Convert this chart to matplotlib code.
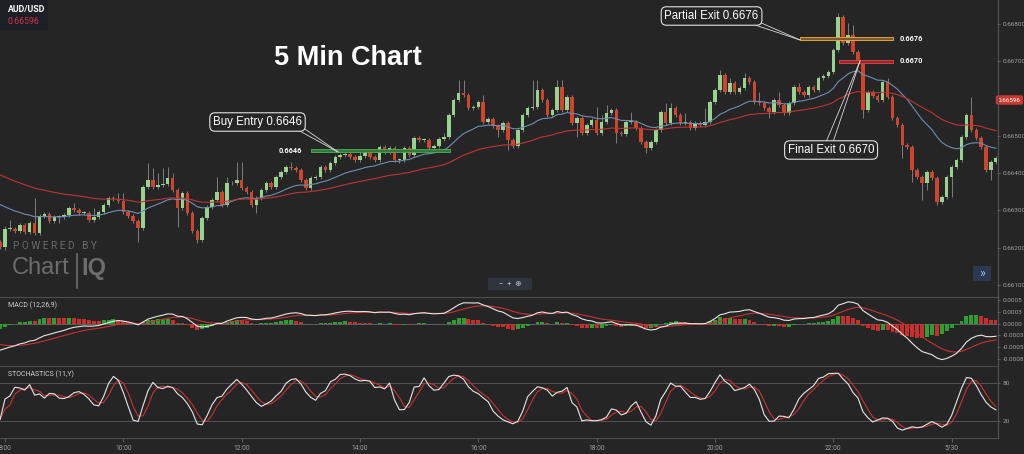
import numpy as np
import matplotlib
matplotlib.use('Agg')
import matplotlib.pyplot as plt
from matplotlib.patches import Rectangle
from matplotlib.lines import Line2D
import matplotlib.transforms as mtransforms

plt.rcParams['font.family'] = ['Roboto', 'DejaVu Sans']

# ---------------- data (AUD/USD 5-minute candles, first candle 7:55) ----------------
first_open = 0.66215
closes = [
    0.66202, 0.66250, 0.66250, 0.66245, 0.66261, 0.66242, 0.66266, 0.66240, 0.66285, 0.66291,
    0.66272, 0.66282, 0.66283, 0.66288, 0.66307, 0.66301, 0.66293, 0.66294, 0.66274, 0.66282,
    0.66296, 0.66315, 0.66333, 0.66331, 0.66325, 0.66296, 0.66285, 0.66272, 0.66253, 0.66363,
    0.66382, 0.66363, 0.66368, 0.66371, 0.66387, 0.66355, 0.66307, 0.66347, 0.66293, 0.66245,
    0.66221, 0.66280, 0.66309, 0.66328, 0.66349, 0.66315, 0.66374, 0.66373, 0.66382, 0.66360,
    0.66349, 0.66315, 0.66333, 0.66355, 0.66374, 0.66363, 0.66390, 0.66403, 0.66416, 0.66414,
    0.66408, 0.66382, 0.66360, 0.66387, 0.66390, 0.66416, 0.66408, 0.66427, 0.66443, 0.66449,
    0.66451, 0.66443, 0.66435, 0.66446, 0.66454, 0.66443, 0.66435, 0.66470, 0.66457, 0.66467,
    0.66435, 0.66436, 0.66467, 0.66449, 0.66494, 0.66489, 0.66490, 0.66467, 0.66473, 0.66492,
    0.66497, 0.66556, 0.66596, 0.66615, 0.66609, 0.66575, 0.66577, 0.66591, 0.66537, 0.66545,
    0.66526, 0.66516, 0.66534, 0.66489, 0.66473, 0.66516, 0.66556, 0.66575, 0.66577, 0.66623,
    0.66596, 0.66556, 0.66569, 0.66631, 0.66569, 0.66604, 0.66534, 0.66548, 0.66508, 0.66529,
    0.66542, 0.66508, 0.66537, 0.66561, 0.66569, 0.66508, 0.66505, 0.66537, 0.66538, 0.66521,
    0.66483, 0.66467, 0.66483, 0.66516, 0.66564, 0.66534, 0.66575, 0.66556, 0.66534, 0.66537,
    0.66521, 0.66534, 0.66529, 0.66537, 0.66591, 0.66623, 0.66663, 0.66617, 0.66642, 0.66617,
    0.66628, 0.66655, 0.66644, 0.66591, 0.66588, 0.66575, 0.66564, 0.66596, 0.66583, 0.66561,
    0.66588, 0.66631, 0.66617, 0.66609, 0.66631, 0.66623, 0.66655, 0.66660, 0.66671, 0.66730,
    0.66818, 0.66749, 0.66770, 0.66725, 0.66698, 0.66569, 0.66617, 0.66607, 0.66596, 0.66644,
    0.66604, 0.66548, 0.66529, 0.66475, 0.66470, 0.66408, 0.66390, 0.66374, 0.66403, 0.66387,
    0.66323, 0.66336, 0.66390, 0.66416, 0.66435, 0.66497, 0.66556, 0.66516, 0.66494, 0.66470,
    0.66408, 0.66430, 0.66441,
]
# wick lengths beyond the body, in points (0.00001)
wick_up = [
    5, 8, 24, 5, 5, 5, 5, 67, 5, 5,
    5, 5, 5, 5, 5, 13, 5, 5, 5, 24,
    5, 5, 5, 5, 16, 21, 5, 5, 5, 5,
    46, 32, 32, 43, 29, 13, 5, 5, 5, 5,
    5, 5, 5, 5, 40, 5, 16, 5, 48, 48,
    5, 5, 5, 5, 5, 5, 5, 5, 5, 13,
    5, 5, 5, 5, 5, 5, 5, 5, 5, 5,
    5, 5, 5, 16, 5, 5, 5, 5, 5, 5,
    5, 5, 5, 5, 5, 5, 5, 5, 5, 5,
    11, 5, 5, 35, 35, 5, 5, 5, 19, 5,
    5, 5, 5, 5, 5, 5, 5, 5, 72, 27,
    5, 5, 5, 19, 19, 5, 5, 5, 5, 5,
    5, 35, 19, 21, 5, 5, 5, 5, 27, 5,
    5, 5, 5, 5, 5, 24, 13, 5, 5, 24,
    5, 5, 5, 38, 5, 5, 13, 5, 13, 5,
    5, 13, 5, 5, 27, 5, 5, 5, 21, 5,
    5, 5, 11, 5, 5, 5, 5, 5, 5, 5,
    11, 5, 32, 27, 5, 5, 5, 5, 5, 5,
    11, 5, 5, 5, 5, 5, 5, 5, 5, 5,
    5, 5, 5, 5, 5, 5, 5, 48, 5, 5,
    5, 5, 5,
]
wick_dn = [
    5, 8, 5, 5, 5, 5, 5, 5, 5, 5,
    5, 5, 16, 5, 5, 5, 5, 5, 5, 5,
    5, 5, 5, 5, 5, 5, 5, 5, 38, 5,
    5, 5, 5, 5, 5, 5, 51, 5, 5, 5,
    8, 5, 5, 5, 5, 5, 5, 5, 5, 5,
    5, 5, 21, 5, 5, 5, 5, 5, 5, 5,
    5, 5, 5, 5, 5, 5, 5, 5, 5, 5,
    5, 5, 5, 5, 5, 5, 5, 5, 5, 5,
    5, 8, 5, 5, 5, 5, 5, 5, 5, 5,
    5, 5, 5, 5, 5, 5, 5, 5, 5, 5,
    5, 19, 5, 27, 5, 5, 5, 5, 5, 5,
    5, 5, 5, 5, 5, 5, 5, 38, 5, 5,
    5, 5, 5, 5, 5, 27, 5, 5, 5, 5,
    5, 13, 5, 5, 5, 5, 5, 5, 5, 5,
    5, 5, 5, 5, 5, 5, 5, 5, 5, 5,
    5, 5, 5, 5, 5, 5, 16, 5, 5, 5,
    5, 5, 5, 5, 5, 5, 5, 5, 5, 5,
    5, 5, 5, 5, 5, 21, 5, 5, 5, 5,
    5, 5, 5, 35, 5, 32, 5, 46, 19, 5,
    8, 5, 5, 54, 5, 5, 5, 5, 5, 5,
    5, 27, 5,
]
# indicator seeds (values of the running averages at the first candle)
seed_ema_fast = 0.66328   # blue line
seed_ema_slow = 0.66403   # red line
seed_ema12 = 0.66270
seed_ema26 = 0.66325
seed_signal = -0.00041

time_labels = ['8:00', '10:00', '12:00', '14:00', '16:00', '18:00', '20:00', '22:00', '5/30']
time_label_index = [0, 24, 48, 72, 96, 120, 144, 168, 192]
# 0.66600 is hidden behind the current-price tag in the reference
price_ticks = [0.668, 0.667, 0.665, 0.664, 0.663, 0.662, 0.661]
macd_ticks = [0.0005, 0.00025, 0.0, -0.00025, -0.0005, -0.00075]
macd_tick_labels = ['0.0005', '0.0003', '0.0000', '-0.0003', '-0.0005', '-0.0008']
stoch_ticks = [80, 20]

buy_entry = 0.6646
partial_exit = 0.6676
final_exit = 0.6670
last_price = 0.66596
pair = 'AUD/USD'

# ---------------- derived series ----------------
c = np.array(closes)
o = np.array([first_open] + closes[:-1])
hi = np.maximum(o, c) + np.array(wick_up) * 1e-5
lo = np.minimum(o, c) - np.array(wick_dn) * 1e-5
x = np.arange(len(c)) - 1


def ema(vals, period, seed):
    a = 2.0 / (period + 1)
    out, prev = [], seed
    for v in vals:
        prev = prev + a * (v - prev)
        out.append(prev)
    return np.array(out)


ma_fast = ema(c, 20, seed_ema_fast)
ma_slow = ema(c, 50, seed_ema_slow)
macd = ema(c, 12, seed_ema12) - ema(c, 26, seed_ema26)
signal = ema(macd, 9, seed_signal)
hist = macd - signal

fastk = []
for k in range(len(c)):
    s = max(0, k - 10)
    hh, ll = hi[s:k + 1].max(), lo[s:k + 1].min()
    fastk.append(100 * (c[k] - ll) / (hh - ll))
fastk = np.array(fastk)


def sma(v, n):
    return np.array([v[max(0, k - n + 1):k + 1].mean() for k in range(len(v))])


slowk = sma(fastk, 3)
slowd = sma(slowk, 3)

# ---------------- layout ----------------
BG = '#252525'
W, H = 1024, 454
fig = plt.figure(figsize=(W / 100, H / 100), dpi=100, facecolor=BG)


def rect(x0, y0, x1, y1):
    return [x0 / W, 1 - y1 / H, (x1 - x0) / W, (y1 - y0) / H]


def px2i(px):
    return (px - 5) / 4.93


def py2p(py):
    return 0.66864 - py * 0.0000268


ax = fig.add_axes(rect(0, 0, 997, 296))
axm = fig.add_axes(rect(0, 297, 997, 365))
axs = fig.add_axes(rect(0, 366, 997, 438))
XL = (-1.014, 201.2)
for a in (ax, axm, axs):
    a.set_facecolor(BG)
    for s in a.spines.values():
        s.set_visible(False)
    a.set_xlim(*XL)
    a.yaxis.tick_right()
    a.tick_params(axis='y', colors='#777777', labelcolor='#a0a0a0', labelsize=4.6,
                  length=2, width=0.5, pad=2)
    a.set_xticks([])

# ---- price panel ----
ax.set_ylim(py2p(296), py2p(0))
ax.set_yticks(price_ticks)
ax.set_yticklabels([f'{v:.5f}' for v in price_ticks])

GREEN = '#97d38f'
RED = '#d0432c'
ax.vlines(x, lo, hi, color='#8c8c8c', lw=0.6, zorder=2)
up = c >= o
body = np.maximum(np.abs(c - o), 0.000018)
ax.bar(x, body, bottom=np.minimum(o, c), width=0.72,
       color=np.where(up, GREEN, RED), lw=0, zorder=3)
ax.plot(x, ma_fast, color='#6f8db0', lw=0.8, zorder=4)
ax.plot(x, ma_slow, color='#bf3434', lw=0.8, zorder=4)

# level bands
bh = 0.000045
ax.add_patch(Rectangle((px2i(311), buy_entry - bh), px2i(450) - px2i(311), 2 * bh,
                       fc='#2f7a38', ec='#4fae5a', lw=0.6, zorder=5))
ax.add_patch(Rectangle((px2i(800), partial_exit - bh), px2i(893) - px2i(800), 2 * bh,
                       fc='#7a5a25', ec='#e0a040', lw=0.7, zorder=5))
ax.add_patch(Rectangle((px2i(839), final_exit - bh), px2i(893) - px2i(839), 2 * bh,
                       fc='#8a2a2a', ec='#d84040', lw=0.7, zorder=5))
lvl_kw = dict(color='white', fontsize=5.3, fontweight='bold', va='center', zorder=6)
ax.text(px2i(302), buy_entry, f'{buy_entry:.4f}', ha='right', **lvl_kw)
ax.text(px2i(900), partial_exit, f'{partial_exit:.4f}', ha='left', **lvl_kw)
ax.text(px2i(900), final_exit, f'{final_exit:.4f}', ha='left', **lvl_kw)

# callouts
box_kw = dict(ha='center', va='center', fontsize=8.3, color='white', family='Liberation Sans',
              zorder=8, bbox=dict(boxstyle='round,pad=0.28,rounding_size=0.45', fc=BG,
                                  ec='#e0e0e0', lw=0.8))


def leader(p1, p2, tgt):
    for p in (p1, p2):
        ax.add_line(Line2D([px2i(p[0]), px2i(tgt[0])], [py2p(p[1]), py2p(tgt[1])],
                           color='#d8d8d8', lw=0.6, zorder=7))


leader((296, 129), (302, 127), (338, 152))
ax.text(px2i(257.5), py2p(122), f'Buy Entry {buy_entry:.4f}', **box_kw)
leader((752, 24), (759, 22), (800, 40))
ax.text(px2i(711.5), py2p(16), f'Partial Exit {partial_exit:.4f}', **box_kw)
leader((826, 142), (833, 142), (860, 61))
ax.text(px2i(831), py2p(150), f'Final Exit {final_exit:.4f}', **box_kw)

ax.text(px2i(348), py2p(58), '5 Min Chart', ha='center', va='center', color='white',
        fontsize=19.5, fontweight='bold', family='Liberation Sans', zorder=8)

# current price tag
tr = mtransforms.blended_transform_factory(ax.transAxes, ax.transData)
ax.text(1.0125, last_price, f'{last_price:.5f}', transform=tr, ha='center', va='center',
        fontsize=4.6, color='white', clip_on=False, zorder=10,
        bbox=dict(boxstyle='round,pad=0.35,rounding_size=0.3', fc='#c93a2c', ec='none'))

# ---- MACD panel ----
axm.set_ylim(-0.000877, 0.000564)
axm.set_yticks(macd_ticks)
axm.set_yticklabels(macd_tick_labels)
axm.axhline(0, color='#6a6a6a', lw=0.6, zorder=1)
rising = np.concatenate([[True], hist[1:] >= hist[:-1]])
axm.bar(x, hist, width=0.8, color=np.where(rising, '#2e9e33', '#c4302b'), lw=0, zorder=2)
axm.plot(x, signal, color='#c83232', lw=0.8, zorder=3)
axm.plot(x, macd, color='#e6e6e6', lw=0.8, zorder=4)
axm.text(0.008, 0.93, 'MACD (12,26,9)', transform=axm.transAxes, color='#cfcfcf',
         fontsize=5.0, va='top', ha='left')

# ---- Stochastics panel ----
axs.set_ylim(-8.2, 108)
axs.set_yticks(stoch_ticks)
axs.set_yticklabels([str(v) for v in stoch_ticks])
for lv in stoch_ticks:
    axs.axhline(lv, color='#5a5a5a', lw=0.6, zorder=1)
axs.plot(x, slowd, color='#c83232', lw=0.8, zorder=3)
axs.plot(x, slowk, color='#e6e6e6', lw=0.8, zorder=4)
axs.text(0.008, 0.93, 'STOCHASTICS (11,Y)', transform=axs.transAxes, color='#cfcfcf',
         fontsize=5.0, va='top', ha='left')
axs.set_xticks(time_label_index)
axs.set_xticklabels(time_labels)
axs.tick_params(axis='x', colors='#777777', labelcolor='#a0a0a0', labelsize=4.8,
                length=3, width=0.5, pad=2)

# separators and right axis line
for yy in (296.5, 365.5, 437.8):
    fig.add_artist(Line2D([0, 997 / W], [1 - yy / H] * 2, color='#4c4c4c', lw=0.8))
fig.add_artist(Line2D([997.5 / W] * 2, [1, 1 - 438 / H], color='#555555', lw=0.8))

# top-left symbol box
fig.add_artist(Rectangle((0, 1 - 30 / H), 48 / W, 30 / H, transform=fig.transFigure,
                         fc='#1c1f25', ec='none'))
fig.text(8 / W, 1 - 10 / H, pair, color='white', fontsize=6.3, fontweight='bold',
         va='center', ha='left')
fig.text(8 / W, 1 - 22 / H, f'{last_price:.5f}', color='#d2314a', fontsize=6.3,
         va='center', ha='left')

# watermark
fig.text(13 / W, 1 - 246 / H, 'P O W E R E D   B Y', color='#6c6c6c', fontsize=7.2,
         va='center', ha='left')
fig.text(12 / W, 1 - 268 / H, 'Chart', color='#6c6c6c', fontsize=17, va='center', ha='left',
         family='Liberation Sans')
fig.add_artist(Line2D([77 / W] * 2, [1 - 254 / H, 1 - 288 / H], color='#6c6c6c', lw=1.2))
fig.text(81 / W, 1 - 268 / H, 'IQ', color='#6c6c6c', fontsize=17, fontweight='bold',
         va='center', ha='left', family='Liberation Sans')

# zoom controls
fig.add_artist(Rectangle((488 / W, 1 - 290 / H), 44 / W, 12 / H, transform=fig.transFigure,
                         fc='#30353d', ec='none'))
fig.text(510 / W, 1 - 284 / H, '−  +  ⊕', color='#b8c0cc', fontsize=5.5, va='center',
         ha='center')
fig.add_artist(Rectangle((973 / W, 1 - 281 / H), 18 / W, 15 / H, transform=fig.transFigure,
                         fc='#2a3850', ec='none'))
fig.text(982 / W, 1 - 273 / H, '»', color='#9ab8e8', fontsize=9, va='center', ha='center')

fig.savefig('out.png', dpi=100, facecolor=BG)
